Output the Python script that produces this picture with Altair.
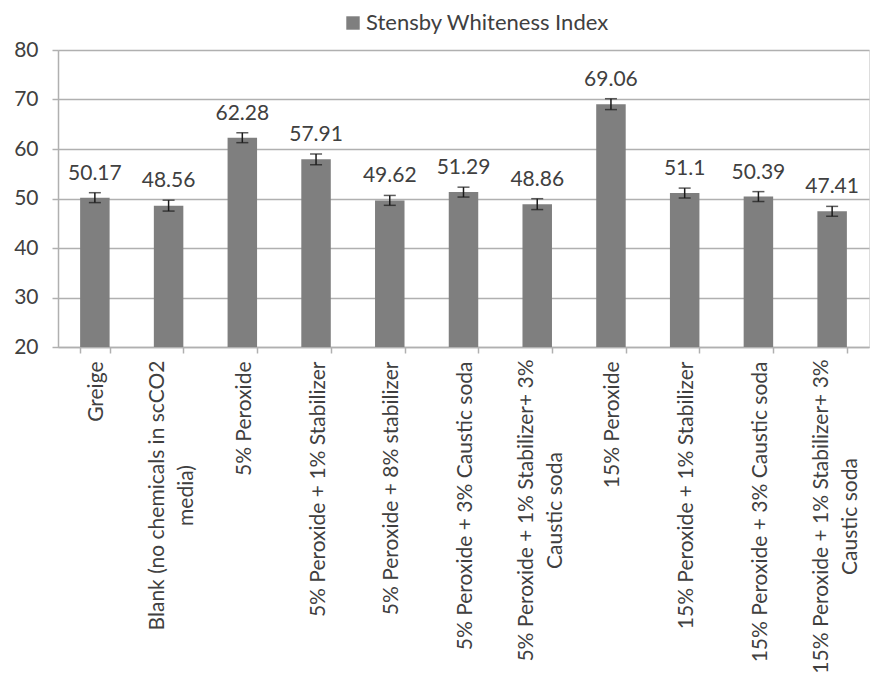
import altair as alt
import pandas as pd

# Bleaching treatments and their Stensby whiteness index (mean, error)
treatments = [
    "Greige",
    "Blank (no chemicals in scCO2\nmedia)",
    "5% Peroxide",
    "5% Peroxide + 1% Stabilizer",
    "5% Peroxide + 8% stabilizer",
    "5% Peroxide + 3% Caustic soda",
    "5% Peroxide + 1% Stabilizer+ 3%\nCaustic soda",
    "15% Peroxide",
    "15% Peroxide + 1% Stabilizer",
    "15% Peroxide + 3% Caustic soda",
    "15% Peroxide + 1% Stabilizer+ 3%\nCaustic soda",
]
whiteness = [50.17, 48.56, 62.28, 57.91, 49.62, 51.29, 48.86, 69.06, 51.1, 50.39, 47.41]
error = [1.0, 1.1, 1.0, 1.1, 1.0, 1.0, 1.1, 1.1, 1.0, 1.0, 1.0]
series_name = "Stensby Whiteness Index"

df = pd.DataFrame({"treatment": treatments, "value": whiteness, "err": error})
df["lo"] = df["value"] - df["err"]
df["hi"] = df["value"] + df["err"]

FONT = "Lato"
TEXT = "#404040"
GRID = "#b0b0b0"
FS = 21

# Two-line tick labels are centred line by line; their padding is half the
# length of the first line so that they start just under the axis.
WRAPPED = "indexof(datum.label, '\\n') >= 0"
wrapped_padding = {
    "condition": [
        {"test": "indexof(datum.label, 'Blank') == 0", "value": 142},
        {"test": "indexof(datum.label, '5% Peroxide + 1% Stabilizer+') == 0", "value": 157},
        {"test": "indexof(datum.label, '15% Peroxide + 1% Stabilizer+') == 0", "value": 163},
    ],
    "value": 8,
}

x = alt.X(
    "treatment:N",
    sort=treatments,
    title=None,
    scale=alt.Scale(paddingInner=0.6, paddingOuter=0.3),
    axis=alt.Axis(
        labelAngle=270,
        labelExpr="split(datum.label, '\\n')",
        labelFontSize=FS,
        labelLineHeight=29,
        labelColor=TEXT,
        labelFont=FONT,
        labelAlign={"condition": {"test": WRAPPED, "value": "center"}, "value": "right"},
        labelPadding=wrapped_padding,
        labelLimit=0,
        labelOffset={"condition": {"test": WRAPPED, "value": -11}, "value": 2},
        tickBand="extent",
        tickColor=GRID,
        tickSize=6,
        tickWidth=1.5,
        domainColor=GRID,
        domainWidth=1.5,
        grid=False,
    ),
)

y_scale = alt.Scale(domain=[20, 80])

bars = alt.Chart(df).mark_bar(clip=True).encode(
    x=x,
    y=alt.Y(
        "value:Q",
        scale=y_scale,
        title=None,
        axis=alt.Axis(
            values=[20, 30, 40, 50, 60, 70, 80],
            labelFontSize=FS,
            labelColor=TEXT,
            labelFont=FONT,
            labelPadding=14,
            tickColor=GRID,
            tickSize=6,
            tickWidth=1.5,
            domainColor=GRID,
            domainWidth=1.5,
            gridColor=GRID,
            gridWidth=1.5,
        ),
    ),
    y2=alt.datum(20),
    color=alt.Color(
        "series:N",
        scale=alt.Scale(range=["#7f7f7f"]),
        legend=alt.Legend(
            title=None,
            orient="none",
            legendX=284,
            legendY=-38,
            symbolType="square",
            symbolSize=180,
            symbolStrokeWidth=0,
            labelFontSize=22,
            labelFont=FONT,
            labelColor=TEXT,
            labelOffset=2,
            labelLimit=0,
        ),
    ),
).transform_calculate(series=f"'{series_name}'")

whisker = alt.Chart(df).mark_rule(color="#1a1a1a", strokeWidth=1.5).encode(
    x=alt.X("treatment:N", sort=treatments),
    y=alt.Y("lo:Q", scale=y_scale),
    y2="hi:Q",
)

caps_hi = alt.Chart(df).mark_tick(color="#1a1a1a", size=12, thickness=1.5).encode(
    x=alt.X("treatment:N", sort=treatments),
    y=alt.Y("hi:Q", scale=y_scale),
)
caps_lo = alt.Chart(df).mark_tick(color="#1a1a1a", size=12, thickness=1.5).encode(
    x=alt.X("treatment:N", sort=treatments),
    y=alt.Y("lo:Q", scale=y_scale),
)

labels = alt.Chart(df).mark_text(
    baseline="bottom", dy=-9, fontSize=FS, font=FONT, color=TEXT
).encode(
    x=alt.X("treatment:N", sort=treatments),
    y=alt.Y("hi:Q", scale=y_scale),
    text=alt.Text("value:Q"),
)

chart = (
    alt.layer(bars, whisker, caps_hi, caps_lo, labels)
    .properties(
        width=811,
        height=297,
        autosize=alt.AutoSizeParams(type="none"),
        padding={"left": 58, "top": 50, "right": 1, "bottom": 338},
    )
    .configure_view(stroke=None)
    .configure(background="white")
)

chart.save("out.html", embed_options={"renderer": "svg", "actions": False})
